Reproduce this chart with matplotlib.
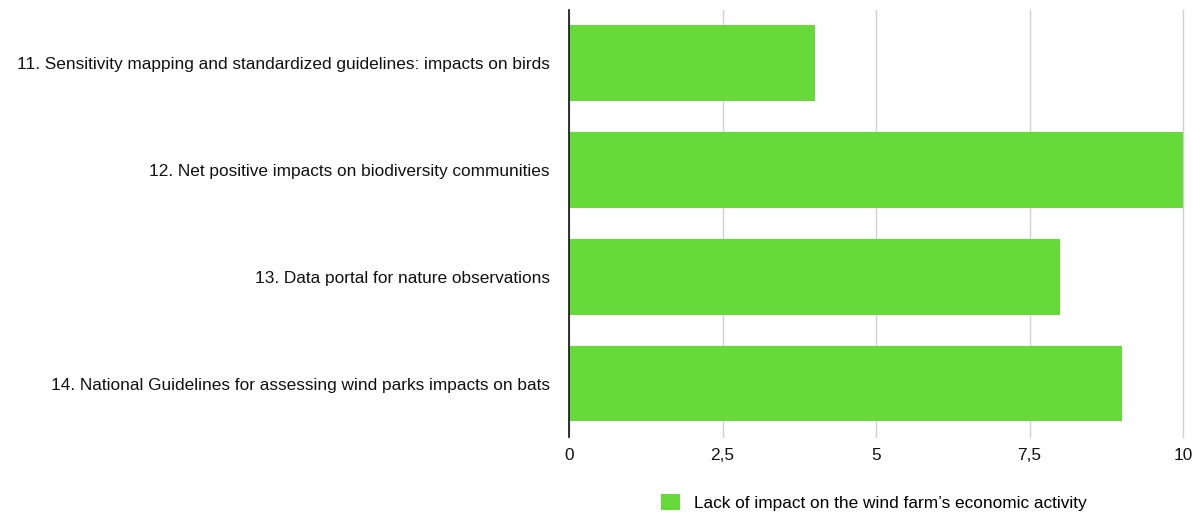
import matplotlib.pyplot as plt

plt.rcParams['font.family'] = ['Liberation Sans', 'DejaVu Sans']

measures = [
    "11. Sensitivity mapping and standardized guidelines: impacts on birds",
    "12. Net positive impacts on biodiversity communities",
    "13. Data portal for nature observations",
    "14. National Guidelines for assessing wind parks impacts on bats",
]
scores = [4, 10, 8, 9]
xticks = [0, 2.5, 5, 7.5, 10]
xtick_labels = ["0", "2,5", "5", "7,5", "10"]
series_name = "Lack of impact on the wind farm\u2019s economic activity"

fig = plt.figure(figsize=(12.02, 5.15), dpi=100)
ax = fig.add_axes([0.4734, 0.1515, 0.5108, 0.8291])

ypos = list(range(len(measures)))
ax.barh(ypos, scores, height=0.71, color='#66da38', label=series_name, zorder=2)

ax.set_ylim(len(measures) - 0.5, -0.5)
ax.set_xlim(0, 10)
ax.set_yticks(ypos)
ax.set_yticklabels(measures, fontsize=12.4, color='#111111')
ax.set_xticks(xticks)
ax.set_xticklabels(xtick_labels, fontsize=12.4, color='#111111')
ax.tick_params(axis='both', length=0)
ax.tick_params(axis='y', pad=14)
ax.tick_params(axis='x', pad=8)

ax.grid(axis='x', color='#d0d0d0', linewidth=1, zorder=0)
for gl in ax.xaxis.get_gridlines():
    gl.set_clip_on(False)
for side in ['top', 'right', 'bottom']:
    ax.spines[side].set_visible(False)
ax.spines['left'].set_color('#111111')
ax.spines['left'].set_linewidth(1.2)
ax.spines['left'].set_zorder(3)

fig.legend(loc='lower center', bbox_to_anchor=(0.7267, -0.022), frameon=False,
           fontsize=12.4, handlelength=1.1, handleheight=1.1, handletextpad=0.8)

fig.savefig('out.png', dpi=100)
